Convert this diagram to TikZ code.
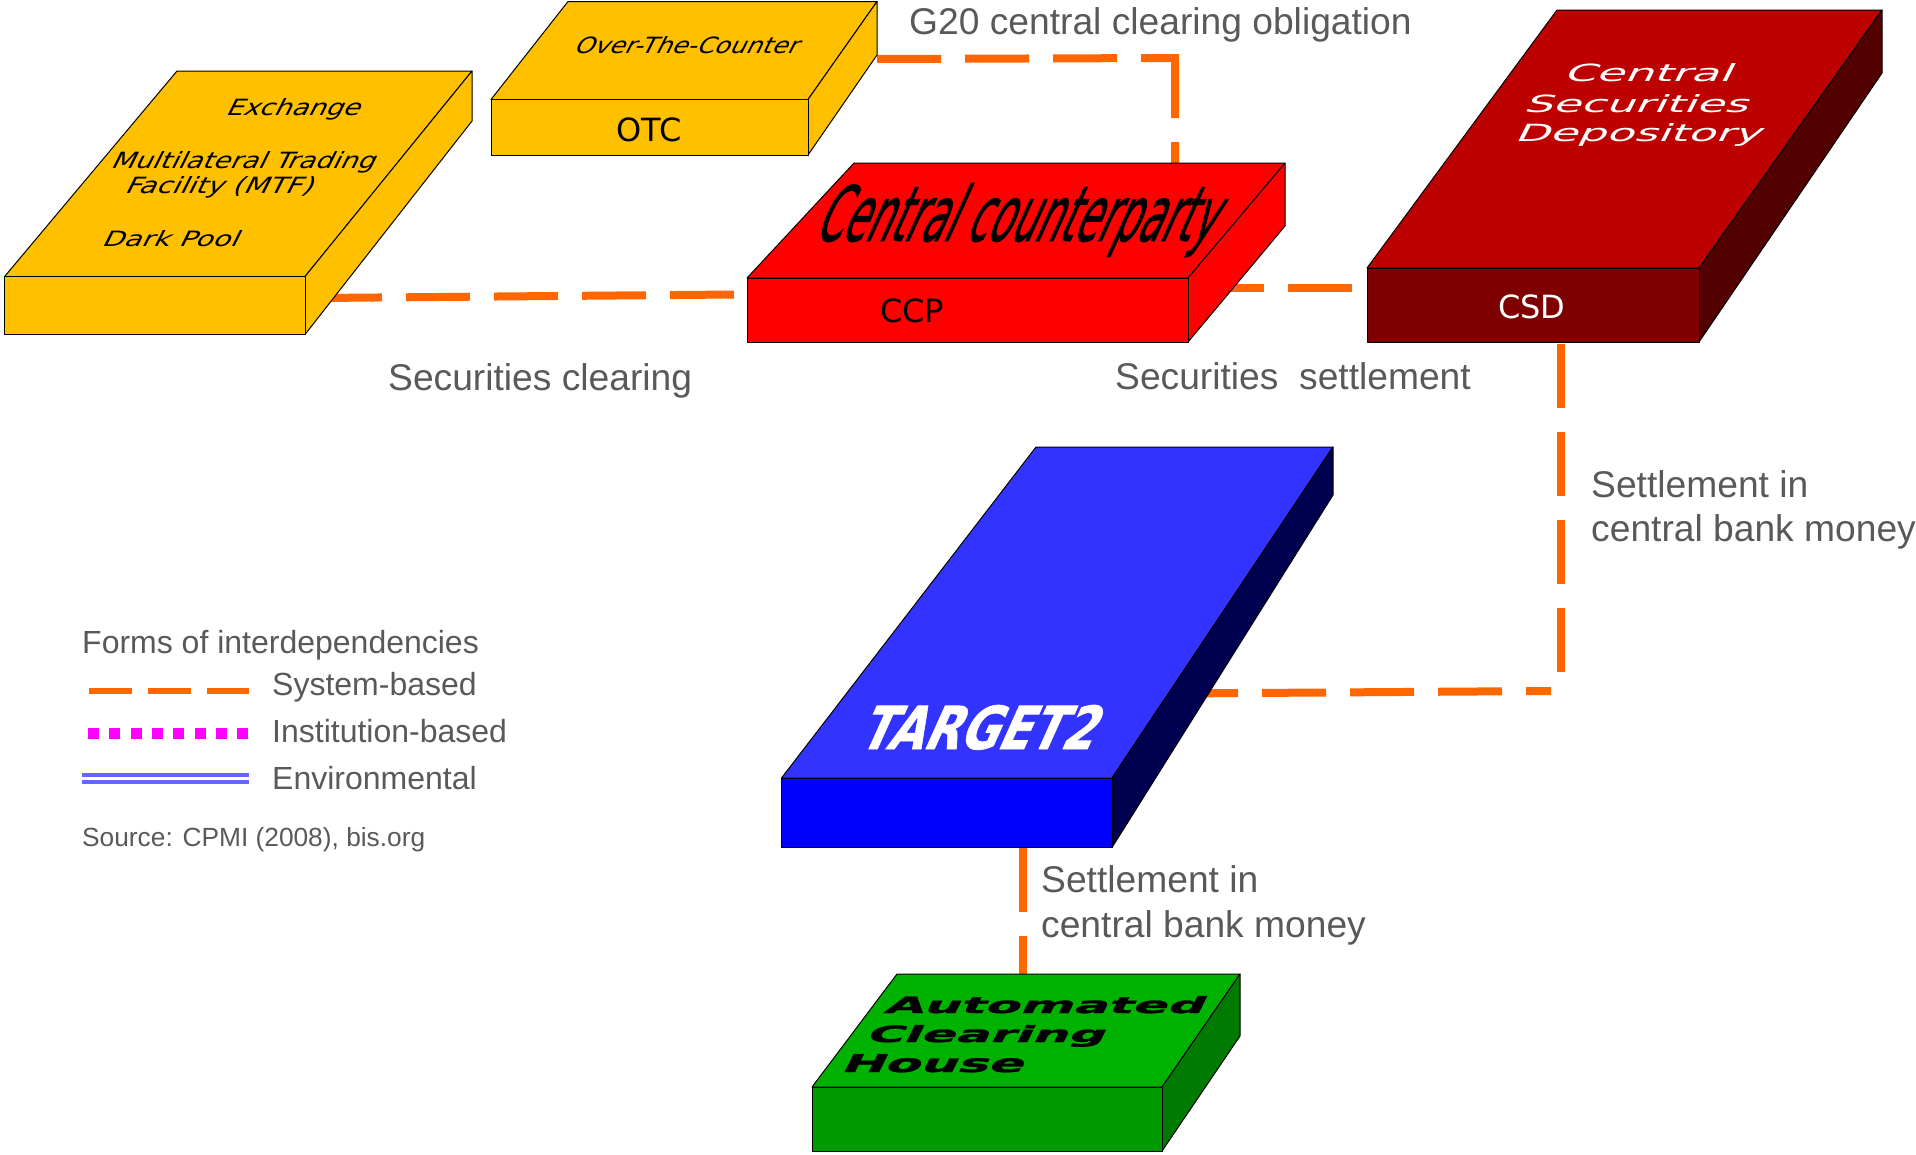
\documentclass[tikz,border=0pt]{standalone}
\usepackage{graphicx}
\usepackage{fontspec}
\setmainfont{Liberation Sans}
\newfontfamily\boxfont{DejaVu Sans}
\newfontfamily\heavyfont[FakeBold=1.2]{DejaVu Sans}
\newfontfamily\heavybold[FakeBold=1.2]{DejaVu Sans Bold}
\definecolor{depline}{HTML}{FF6600}
\definecolor{labelgrey}{HTML}{58595B}
\definecolor{amberbox}{HTML}{FFC000}
\definecolor{redbox}{HTML}{FF0000}
\definecolor{csdtop}{HTML}{BD0000}
\definecolor{csdfront}{HTML}{7F0000}
\definecolor{csdside}{HTML}{520000}
\definecolor{tgttop}{HTML}{3333FF}
\definecolor{tgtfront}{HTML}{0000FF}
\definecolor{tgtside}{HTML}{000050}
\definecolor{achtop}{HTML}{00B200}
\definecolor{achfront}{HTML}{009900}
\definecolor{achside}{HTML}{007A00}
\definecolor{envline}{HTML}{6666FF}
\definecolor{instline}{HTML}{FF00FF}
\tikzset{
  depdash/.style={draw=depline,line width=8pt,dash pattern=on 64pt off 24pt},
  face/.style={draw=black,line width=1pt,line join=round},
  lab/.style={anchor=base west,inner sep=0pt,text=labelgrey,font=\fontsize{37.2}{37}\selectfont},
  leg/.style={anchor=base west,inner sep=0pt,text=labelgrey,font=\fontsize{32}{32}\selectfont},
  sourcelab/.style={anchor=base west,inner sep=0pt,text=labelgrey,font=\fontsize{26.3}{27}\selectfont},
  frontlab/.style={anchor=base west,inner sep=0pt,font=\boxfont\fontsize{32}{32}\selectfont},
}
\newcommand{\cuboid}[9]{%
  \def\cbname{#1}\def\cbtop{#2}\def\cbfront{#3}\def\cbside{#4}%
  \def\cbfl{#5}\def\cbfr{#6}\def\cbbl{#7}\def\cbbr{#8}\def\cbby{#9}\cuboidrest}
\newcommand{\cuboidrest}[3]{%
  \fill[\cbtop,face] (\cbfl,#1) coordinate (\cbname-ftl) -- (\cbbl,\cbby) coordinate (\cbname-btl) -- (\cbbr,\cbby) coordinate (\cbname-btr) -- (\cbfr,#1) coordinate (\cbname-ftr) -- cycle;
  \fill[\cbside,face] (\cbfr,#1) -- (\cbbr,\cbby) -- (\cbbr,#3) -- (\cbfr,#2) -- cycle;
  \fill[\cbfront,face] (\cbfl,#1) -- (\cbfr,#1) -- (\cbfr,#2) coordinate (\cbname-fbr) -- (\cbfl,#2) coordinate (\cbname-fbl) -- cycle;
}
\newcommand{\skewt}[7]{%
  \pgfmathsetmacro\skw{#4-#6*#5}%
  \begin{scope}[shift={(#2,#3)},xslant=#6]
    \node[transform shape,anchor=base west,inner sep=0pt] (#1) at (0,0) {\resizebox{\skw pt}{#5pt}{\boxfont #7}};
  \end{scope}}
\begin{document}
\begin{tikzpicture}[x=1pt,y=-1pt]
\useasboundingbox (0,0) rectangle (1916,1154);
\coordinate (exR) at (318,298);
\coordinate (ccpL) at (735,294.5);
\coordinate (otcR) at (877,59);
\coordinate (g20a) at (1175,58);
\coordinate (g20b) at (1175,54);
\coordinate (ccpT) at (1175,170);
\coordinate (ccpR) at (1200,288);
\coordinate (csdL) at (1352,288);
\coordinate (csdB) at (1561,344);
\coordinate (sbend) at (1561,672);
\coordinate (tgtR) at (1174,693.5);
\coordinate (hbend) at (1551,691);
\coordinate (tgtB) at (1023,848);
\coordinate (achT) at (1023,980);
\draw[depdash] (exR) -- (ccpL);
\draw[depdash] (otcR) -- (g20a) (g20b) -- (ccpT);
\draw[depdash] (ccpR) -- (csdL);
\draw[depdash] (csdB) -- (sbend);
\draw[depdash] (tgtR) -- (hbend);
\draw[depdash] (tgtB) -- (achT);
\cuboid{ex}{amberbox}{amberbox}{amberbox}{4.6}{305}{177}{472}{71}{276.5}{334.5}{121}
\cuboid{otc}{amberbox}{amberbox}{amberbox}{491}{808}{568}{877}{1.5}{99.5}{155}{55}
\cuboid{ccp}{redbox}{redbox}{redbox}{747}{1188}{854}{1285}{163}{278}{342}{226}
\cuboid{csd}{csdtop}{csdfront}{csdside}{1367}{1699}{1557}{1882}{10}{268}{342}{73}
\cuboid{tgt}{tgttop}{tgtfront}{tgtside}{781.5}{1112}{1036}{1333}{447}{778}{847.5}{495}
\cuboid{ach}{achtop}{achfront}{achside}{812}{1162}{897}{1240}{974}{1087}{1151}{1036}
\skewt{t1}{225}{115}{142}{17}{.5}{Exchange}
\skewt{t2}{110}{168}{272}{17}{.5}{Multilateral Trading}
\skewt{t3}{124}{193}{196}{17}{.5}{Facility (MTF)}
\skewt{t4}{101}{246}{144}{16}{.5}{Dark Pool}
\skewt{t5}{573}{53}{232}{17}{.5}{Over-The-Counter}
\skewt{t6}{813}{241}{424}{58}{.45}{\heavyfont Central counterparty}
\skewt{t7}{1563}{81}{177}{18}{.5}{\color{white}Central}
\skewt{t8}{1523}{112}{233}{18}{.5}{\color{white}Securities}
\skewt{t9}{1514}{141}{255}{18}{.5}{\color{white}Depository}
\skewt{t10}{857}{749}{254}{44}{.45}{\heavybold\color{white}TARGET2}
\skewt{t11}{883}{1013}{328}{17}{.5}{\heavybold Automated}
\skewt{t12}{865}{1042}{247}{17}{.5}{\heavybold Clearing}
\skewt{t13}{840}{1072}{191}{18}{.5}{\heavybold House}
\node[frontlab] (otclab) at (616,141) {OTC};
\node[frontlab] (ccplab) at (880,322) {CCP};
\node[frontlab,text=white] (csdlab) at (1498,318) {CSD};
\node[lab] (g20) at (909,34) {G20 central clearing obligation};
\node[lab] (sclear) at (388,390) {Securities clearing};
\node[lab] (ssett) at (1115,389) {Securities\ \ settlement};
\node[lab] (s1a) at (1591,497) {Settlement in};
\node[lab] (s1b) at (1591,541.5) {central bank money};
\node[lab] (s2a) at (1041,892) {Settlement in};
\node[lab] (s2b) at (1041,937) {central bank money};
\node[leg] (lt) at (82,653) {Forms of interdependencies};
\node[leg] (l1) at (272,695) {System-based};
\node[leg] (l2) at (272,742) {Institution-based};
\node[leg] (l3) at (272,789) {Environmental};
\node[sourcelab] (src) at (82,846.5) {Source: CPMI (2008), bis.org};
\coordinate (a1) at (89,691); \coordinate (b1) at (249,691);
\coordinate (a2) at (88,733); \coordinate (b2) at (250,733);
\coordinate (a3) at (82,775); \coordinate (b3) at (249,775);
\coordinate (a4) at (82,782); \coordinate (b4) at (249,782);
\draw[depline,line width=5.5pt,dash pattern=on 43pt off 16pt] (a1) -- (b1);
\draw[instline,line width=11pt,dash pattern=on 11pt off 10.3pt] (a2) -- (b2);
\draw[envline,line width=3.5pt] (a3) -- (b3);
\draw[envline,line width=3.5pt] (a4) -- (b4);
\end{tikzpicture}
\end{document}
